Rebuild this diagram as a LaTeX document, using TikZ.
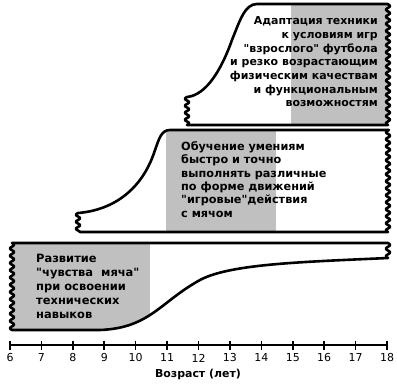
\documentclass[tikz,border=0pt]{standalone}
\usepackage{fontspec}
\newfontfamily\djv{DejaVu Sans}
\newfontfamily\djvb{DejaVu Sans Bold}
\definecolor{bandgray}{HTML}{C0C0C0}
\tikzset{
  outline/.style={line width=2.6bp, line join=round},
  lblA/.style={inner sep=0pt, font=\djvb\fontsize{11}{13.75}\selectfont},
  lblB/.style={inner sep=0pt, font=\djvb\fontsize{11.3}{13.5}\selectfont},
  lblC/.style={inner sep=0pt, font=\djvb\fontsize{11.5}{14.2}\selectfont},
  num/.style={inner sep=0pt, font=\djv\fontsize{11}{12}\selectfont},
}
\begin{document}
\begin{tikzpicture}[x=1bp,y=-1bp]
\useasboundingbox (0,0) rectangle (397,386);
% ---------- band 1 (top)
\begin{scope}
\clip (388,4) -- (257,4) .. controls (245,4) and (240,20) .. (232,40) .. controls (222,68) and (207,95) .. (187,97)
  -- plot[domain=97:125,samples=40] ({187-2*sin(360/7*(\x-97))},\x)
  -- plot[domain=125:4,samples=150] ({388+2*sin(360/7.1*(\x-125))},\x) -- cycle;
\fill[bandgray] (291,0) rectangle (397,130);
\end{scope}
\draw[outline] (388,4) -- (257,4) .. controls (245,4) and (240,20) .. (232,40) .. controls (222,68) and (207,95) .. (187,97)
  -- plot[domain=97:125,samples=40] ({187-2*sin(360/7*(\x-97))},\x)
  -- plot[domain=125:4,samples=150] ({388+2*sin(360/7.1*(\x-125))},\x) -- cycle;
% ---------- band 2 (middle)
\begin{scope}
\clip (388,130) -- (170,130) .. controls (161,130) and (159,139) .. (154,153) .. controls (142,188) and (115,210) .. (78,213)
  -- plot[domain=213:232,samples=30] ({78-2*sin(360/7*(\x-213))},\x)
  -- plot[domain=232:130,samples=130] ({388+2*sin(360/7*(\x-232))},\x) -- cycle;
\fill[bandgray] (166,125) rectangle (276,240);
\end{scope}
\draw[outline] (388,130) -- (170,130) .. controls (161,130) and (159,139) .. (154,153) .. controls (142,188) and (115,210) .. (78,213)
  -- plot[domain=213:232,samples=30] ({78-2*sin(360/7*(\x-213))},\x)
  -- plot[domain=232:130,samples=130] ({388+2*sin(360/7*(\x-232))},\x) -- cycle;
% ---------- band 3 (bottom)
\begin{scope}
\clip (12,243) -- plot[domain=243:258,samples=25] ({388+2*sin(360/7.5*(\x-243))},\x)
  .. controls (300,262) and (230,264) .. (200,280) .. controls (160,302) and (150,328) .. (100,330)
  -- plot[domain=330:243,samples=110] ({12+2*sin(360/7.25*(\x-330))},\x) -- cycle;
\fill[bandgray] (0,238) rectangle (150,335);
\end{scope}
\draw[outline] (12,243) -- plot[domain=243:258,samples=25] ({388+2*sin(360/7.5*(\x-243))},\x)
  .. controls (300,262) and (230,264) .. (200,280) .. controls (160,302) and (150,328) .. (100,330)
  -- plot[domain=330:243,samples=110] ({12+2*sin(360/7.25*(\x-330))},\x) -- cycle;
% ---------- texts
\node[lblA, anchor=north east, align=right] (t1) at (378,16.5) {Адаптация техники\\к условиям игр\\"взрослого" футбола\\и резко возрастающим\\физическим качествам\\и функциональным\\возможностям};
\node[lblB, anchor=north west, align=left] (t2) at (181,141) {Обучение умениям\\быстро и точно\\выполнять различные\\по форме движений\\"игровые"действия\\с мячом};
\node[lblC, anchor=north west, align=left] (t3) at (36,253.5) {Развитие\\"чувства\hspace{4pt} мяча"\\при освоении\\технических\\навыков};
% ---------- axis
\coordinate (a0) at (10,345);
\coordinate (a1) at (387,345);
\draw[line width=2.6bp] (a0) -- (a1);
\foreach \y [count=\i from 0] in {6,...,18} {
  \draw[line width=1.6bp] ({10+\i*31.42},340.5) -- ({10+\i*31.42},349.5);
  \node[num] (n\y) at ({10+\i*31.42},358) {\y};
}
\node[lblA] (axlbl) at (198,374) {Возраст (лет)};
\end{tikzpicture}
\end{document}
